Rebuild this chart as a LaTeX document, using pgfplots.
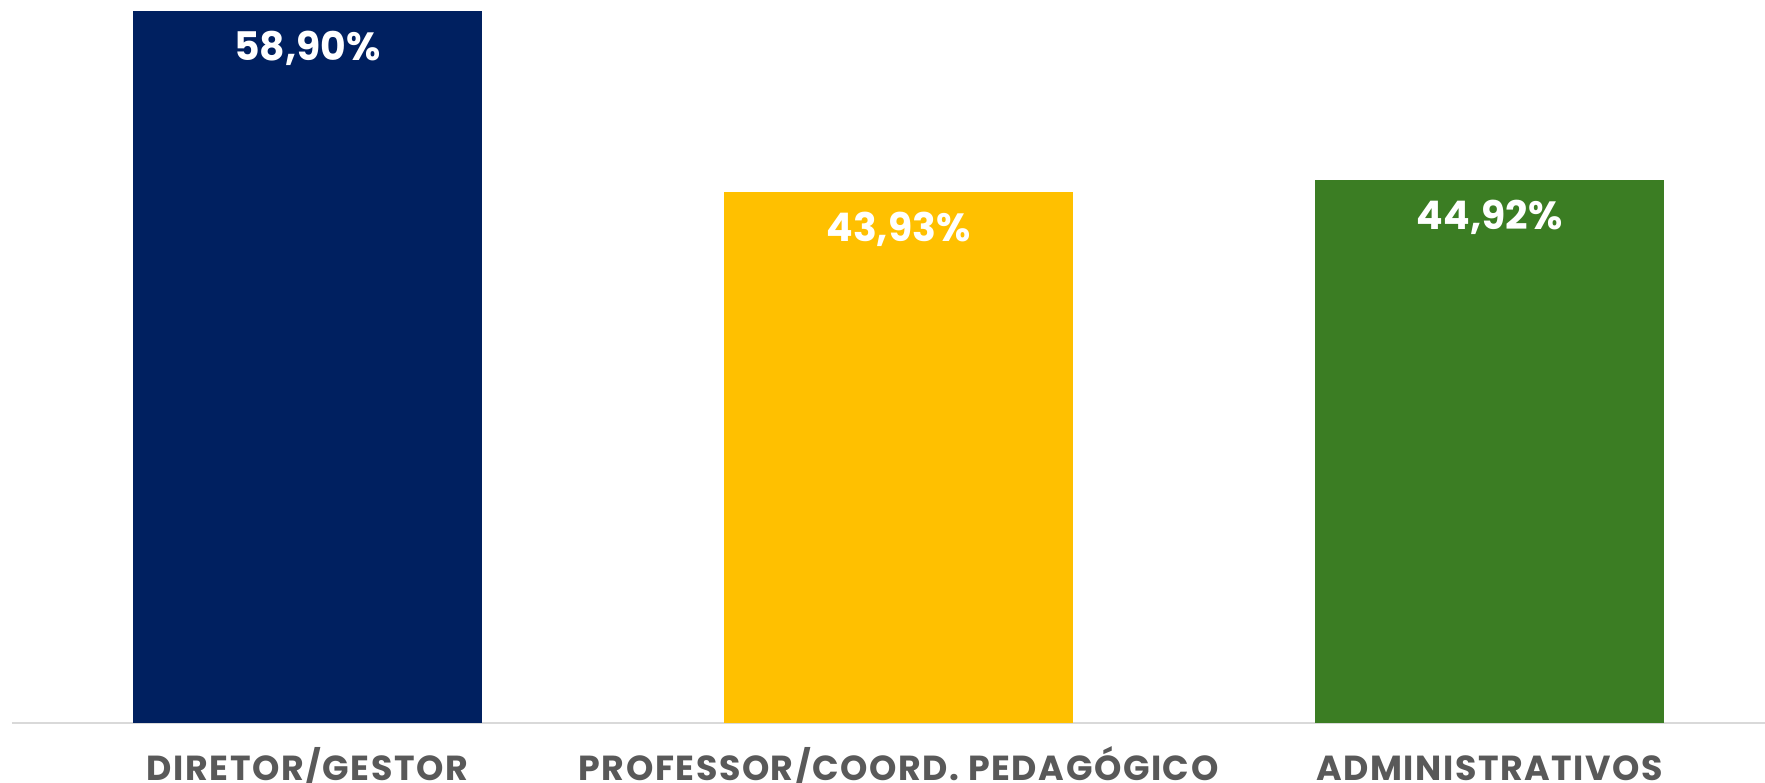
\documentclass[border=0pt]{standalone}
\usepackage{fontspec}
\setmainfont{Poppins}[BoldFont={* Bold}]
\usepackage{pgfplots}
\pgfplotsset{compat=1.18}
\definecolor{navy}{HTML}{002060}
\definecolor{gold}{HTML}{FFC000}
\definecolor{grn}{HTML}{3B7D23}
\definecolor{lbl}{HTML}{595959}
\definecolor{axl}{HTML}{D9D9D9}
\begin{document}
\begin{tikzpicture}
\clip (0,0) rectangle (176.5mm,78.2mm);
\begin{axis}[
  at={(1.2mm,5.9mm)}, anchor=south west,
  scale only axis, width=177.3mm, height=72.3mm,
  xmin=0.5, xmax=3.5, ymin=0, ymax=59.8,
  axis y line=none,
  axis x line*=bottom,
  x axis line style={draw=axl, line width=0.25mm},
  xtick={1,2,3},
  xticklabels={DIRETOR/GESTOR, PROFESSOR/COORD. PEDAGÓGICO, ADMINISTRATIVOS},
  major tick length=0pt,
  xticklabel style={anchor=base, yshift=-5.75mm, font=\fontsize{9.9pt}{11pt}\selectfont\bfseries\addfontfeature{LetterSpace=4.5}, text=lbl},
  ybar, bar width=34.9mm,
  clip=false,
  point meta=explicit symbolic,
  nodes near coords,
  every node near coord/.style={anchor=base, yshift=-5.0mm, text=white, font=\fontsize{11.2pt}{13pt}\selectfont\bfseries},
]
\addplot[fill=navy, draw=none, bar shift=0pt] coordinates {(1,58.90)[58,90\%]};
\addplot[fill=gold, draw=none, bar shift=0pt] coordinates {(2,43.93)[43,93\%]};
\addplot[fill=grn, draw=none, bar shift=0pt] coordinates {(3,44.92)[44,92\%]};
\end{axis}
\end{tikzpicture}
\end{document}
